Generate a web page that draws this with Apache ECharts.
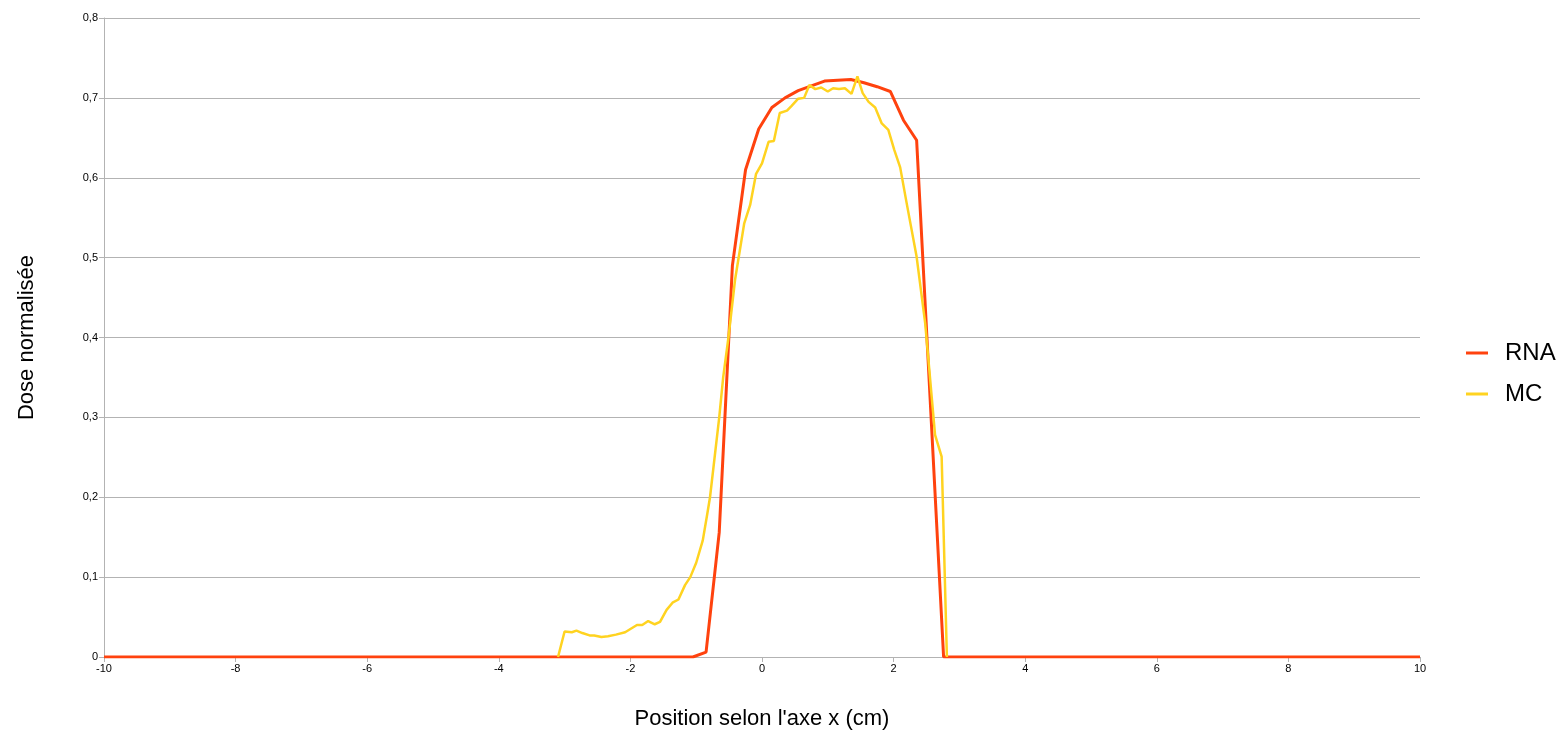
<!DOCTYPE html>
<html>
<head>
<meta charset="utf-8">
<script src="https://cdn.jsdelivr.net/npm/echarts@6/dist/echarts.min.js"></script>
<style>
  html, body { margin: 0; padding: 0; background: #fff; }
  #chart { width: 1566px; height: 734px; }
</style>
</head>
<body>
<div id="chart"></div>
<script>
// positions (cm) et doses
const rnaX = [-10, -1.05, -0.85, -0.65, -0.45, -0.25, -0.05, 0.15, 0.35, 0.55, 0.75, 0.95, 1.15, 1.35, 1.55, 1.75, 1.95, 2.15, 2.35, 2.76, 10];
const rnaY = [0, 0, 0.006, 0.156, 0.49, 0.61, 0.661, 0.688, 0.700, 0.709, 0.715, 0.721, 0.722, 0.723, 0.719, 0.714, 0.708, 0.672, 0.647, 0, 0];

const mcX = [-3.10, -3.00, -2.89, -2.82, -2.73, -2.62, -2.55, -2.44, -2.34, -2.22, -2.08, -2.00, -1.90, -1.82, -1.73, -1.63, -1.55, -1.45, -1.36, -1.27, -1.17, -1.09, -1.00, -0.90, -0.83, -0.79, -0.65, -0.59, -0.51, -0.41, -0.27, -0.18, -0.09, 0.00, 0.10, 0.18, 0.27, 0.38, 0.45, 0.55, 0.64, 0.72, 0.81, 0.90, 1.00, 1.08, 1.17, 1.26, 1.36, 1.45, 1.53, 1.62, 1.72, 1.82, 1.92, 2.01, 2.10, 2.19, 2.26, 2.35, 2.48, 2.63, 2.73, 2.81];
const mcY = [0, 0.032, 0.031, 0.033, 0.030, 0.027, 0.027, 0.025, 0.026, 0.028, 0.031, 0.035, 0.040, 0.040, 0.045, 0.041, 0.044, 0.059, 0.068, 0.072, 0.090, 0.100, 0.118, 0.146, 0.180, 0.200, 0.300, 0.350, 0.400, 0.472, 0.543, 0.566, 0.605, 0.618, 0.645, 0.646, 0.681, 0.684, 0.690, 0.699, 0.700, 0.716, 0.711, 0.713, 0.708, 0.712, 0.711, 0.712, 0.705, 0.727, 0.706, 0.695, 0.688, 0.668, 0.660, 0.635, 0.613, 0.572, 0.541, 0.501, 0.418, 0.278, 0.251, 0];

const chart = echarts.init(document.getElementById('chart'));

const axisGray = '#b3b3b3';

chart.setOption({
  animation: false,
  textStyle: { fontFamily: 'Liberation Sans, Arial, sans-serif' },
  grid: { left: 104, right: 146, top: 18, bottom: 77, outerBoundsMode: 'none' },
  legend: {
    orient: 'vertical',
    left: 1461,
    top: 336,
    itemWidth: 22,
    itemHeight: 3,
    itemGap: 17,
    icon: 'rect',
    textStyle: { fontSize: 24, color: '#000', padding: [0, 0, 0, 12] },
    data: ['RNA', 'MC']
  },
  xAxis: {
    type: 'value',
    min: -10,
    max: 10,
    interval: 2,
    name: "Position selon l'axe x (cm)",
    nameLocation: 'middle',
    nameGap: 51,
    nameTextStyle: { fontSize: 22, color: '#000' },
    axisLine: { show: true, onZero: false, lineStyle: { color: axisGray } },
    axisTick: { show: true, length: 5, lineStyle: { color: axisGray } },
    axisLabel: { fontSize: 11, color: '#000', margin: 6 },
    splitLine: { show: false }
  },
  yAxis: {
    type: 'value',
    min: 0,
    max: 0.8,
    interval: 0.1,
    name: 'Dose normalisée',
    nameLocation: 'middle',
    nameGap: 66,
    nameTextStyle: { fontSize: 22, color: '#000' },
    axisLine: { show: true, onZero: false, lineStyle: { color: axisGray } },
    axisTick: { show: true, length: 5, lineStyle: { color: axisGray } },
    axisLabel: {
      fontSize: 11, color: '#000', margin: 6,
      formatter: v => (Math.round(v * 10) / 10).toString().replace('.', ',')
    },
    splitLine: { show: true, lineStyle: { color: axisGray, width: 1 } }
  },
  series: [
    {
      name: 'RNA',
      type: 'line',
      showSymbol: false,
      color: '#ff420e',
      lineStyle: { width: 3, color: '#ff420e' },
      data: rnaX.map((x, i) => [x, rnaY[i]])
    },
    {
      name: 'MC',
      type: 'line',
      showSymbol: false,
      color: '#ffd320',
      lineStyle: { width: 2.5, color: '#ffd320' },
      data: mcX.map((x, i) => [x, mcY[i]])
    }
  ]
});
</script>
</body>
</html>
